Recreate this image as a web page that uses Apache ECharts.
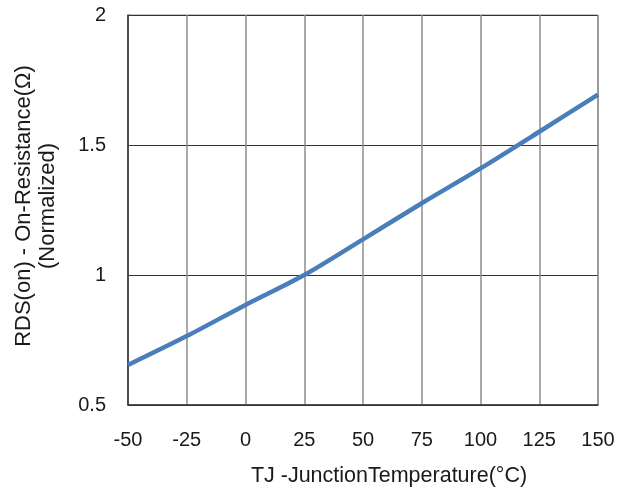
<!DOCTYPE html>
<html>
<head>
<meta charset="utf-8">
<script src="https://cdn.jsdelivr.net/npm/echarts@6/dist/echarts.min.js"></script>
<style>html,body{margin:0;padding:0;background:#fff;}#c{width:630px;height:490px;}</style>
</head>
<body>
<div id="c"></div>
<script>
const temps = [-50, -25, 0, 25, 50, 75, 100, 125, 150];
const rdsNorm = [0.654, 0.765, 0.885, 1.0, 1.137, 1.276, 1.41, 1.551, 1.694];
const xTicks = [-50, 150, 25];
const yTicks = [0.5, 2, 0.5];
const xName = 'TJ -JunctionTemperature(°C)';
const yName = 'RDS(on) - On-Resistance(Ω)\n(Normalized)';

const chart = echarts.init(document.getElementById('c'), null, {renderer: 'canvas'});
const font = 'Liberation Sans, Arial, sans-serif';
chart.setOption({
  animation: false,
  backgroundColor: '#fff',
  grid: {left: 128, right: 32, top: 15, bottom: 85, show: true, borderColor: '#8c8c8c', borderWidth: 1,
         containLabel: false, outerBoundsMode: 'none'},
  xAxis: {
    type: 'value', min: xTicks[0], max: xTicks[1], interval: xTicks[2],
    name: xName, nameLocation: 'middle', nameGap: 60,
    nameTextStyle: {fontFamily: font, fontSize: 21.5, color: '#1a1a1a', padding: [0, 0, 0, 52]},
    axisLine: {show: true, onZero: false, lineStyle: {color: '#333', width: 1.5}},
    axisTick: {show: false},
    axisLabel: {fontFamily: font, fontSize: 20, color: '#1a1a1a', margin: 25},
    splitLine: {show: true, lineStyle: {color: '#8c8c8c', width: 1.5}}
  },
  yAxis: {
    type: 'value', min: yTicks[0], max: yTicks[1], interval: yTicks[2],
    name: yName, nameLocation: 'middle', nameGap: 68, nameRotate: 90,
    nameTextStyle: {fontFamily: font, fontSize: 22, color: '#1a1a1a', lineHeight: 24, padding: [0, 0, 0, 8]},
    axisLine: {show: true, onZero: false, lineStyle: {color: '#333', width: 1.5}},
    axisTick: {show: false},
    axisLabel: {fontFamily: font, fontSize: 20, color: '#1a1a1a', margin: 22},
    splitLine: {show: true, lineStyle: {color: '#333', width: 1}}
  },
  series: [{
    type: 'line', data: temps.map((t, i) => [t, rdsNorm[i]]),
    smooth: 0.3, showSymbol: false,
    lineStyle: {color: '#4a7ebb', width: 4.5}
  }]
});
</script>
</body>
</html>
